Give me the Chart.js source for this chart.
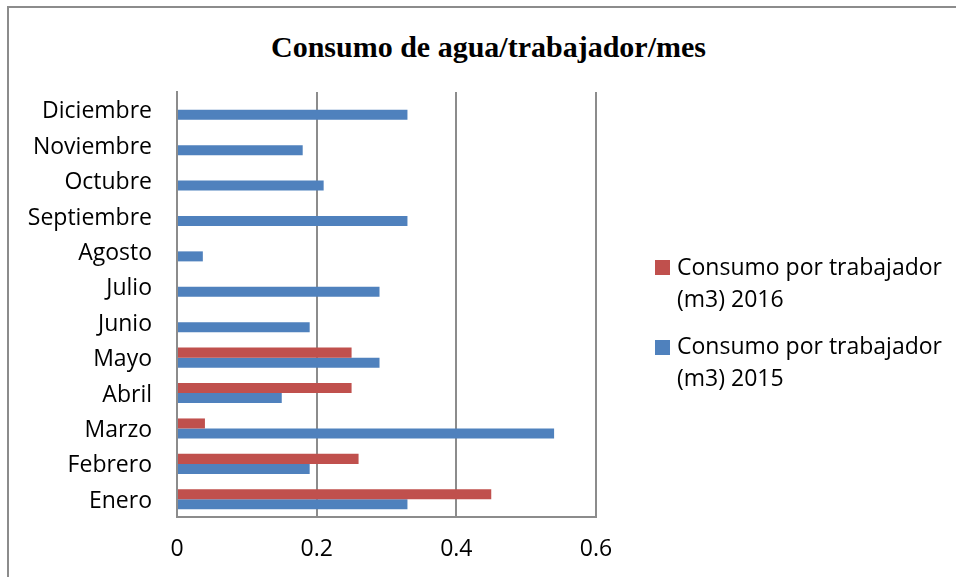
<!DOCTYPE html>
<html>
<head>
<meta charset="utf-8">
<script src="https://cdn.jsdelivr.net/npm/chart.js@4"></script>
<style>
    html, body { margin: 0; padding: 0; background: #fff; }
    #wrap { position: relative; width: 956px; height: 577px; overflow: hidden; }
    #marco { position: absolute; left: 7px; top: 6px; width: 1100px; height: 700px; border: 2px solid #8c8c8c; }
    #titulo { position: absolute; left: 0; top: 32px; width: 977px; text-align: center;
        font: bold 30px "Liberation Serif", serif; line-height: 30px; color: #000; }
    .leyenda { position: absolute; left: 677px; font: 23px "Open Sans", sans-serif; line-height: 32px; color: #000; white-space: nowrap; }
    .cuadro { position: absolute; left: 655px; width: 15px; height: 15px; }
    canvas { position: absolute; left: 0; top: 0; }
</style>
</head>
<body>
<div id="wrap">
    <div id="marco"></div>
    <div id="titulo">Consumo de agua/trabajador/mes</div>
    <canvas id="grafico" width="956" height="577"></canvas>
    <div id="leyenda"></div>
</div>
<script>
// Datos
const meses = ['Enero', 'Febrero', 'Marzo', 'Abril', 'Mayo', 'Junio', 'Julio',
    'Agosto', 'Septiembre', 'Octubre', 'Noviembre', 'Diciembre'];
const consumo2016 = [0.45, 0.26, 0.04, 0.25, 0.25, null, null, null, null, null, null, null];
const consumo2015 = [0.33, 0.19, 0.54, 0.15, 0.29, 0.19, 0.29, 0.037, 0.33, 0.21, 0.18, 0.33];
const etiquetasX = ['0', '0.2', '0.4', '0.6'];
const series = ['Consumo por trabajador (m3) 2016', 'Consumo por trabajador (m3) 2015'];

const rojo = '#C0504D';
const azul = '#4F81BD';
const gris = '#8c8c8c';

// leyenda en HTML (texto en dos lineas como en el original)
const leyenda = document.getElementById('leyenda');
[[series[0], rojo, 260, 250], [series[1], azul, 340, 329]].forEach(([texto, color, yCuadro, yTexto]) => {
    const c = document.createElement('div');
    c.className = 'cuadro';
    c.style.top = yCuadro + 'px';
    c.style.background = color;
    leyenda.appendChild(c);
    const t = document.createElement('div');
    t.className = 'leyenda';
    t.style.top = yTexto + 'px';
    const partes = texto.split(' (');
    t.innerHTML = partes[0] + '<br>(' + partes[1];
    leyenda.appendChild(t);
});

const ctx = document.getElementById('grafico').getContext('2d');
new Chart(ctx, {
    type: 'bar',
    data: {
        labels: meses,
        datasets: [
            { label: series[0], data: consumo2016, backgroundColor: rojo },
            { label: series[1], data: consumo2015, backgroundColor: azul }
        ]
    },
    options: {
        indexAxis: 'y',
        responsive: false,
        animation: false,
        barPercentage: 1,
        categoryPercentage: 0.565,
        layout: { padding: { top: 92, right: 360, left: 0, bottom: 0 } },
        plugins: {
            legend: { display: false },
            title: { display: false },
            tooltip: { enabled: false }
        },
        scales: {
            x: {
                min: 0,
                max: 0.6,
                ticks: {
                    stepSize: 0.2,
                    padding: 19,
                    color: '#000',
                    font: { family: 'Open Sans', size: 23 },
                    callback: (v, i) => etiquetasX[i]
                },
                grid: { color: gris, lineWidth: 2, drawTicks: false },
                border: { color: gris, width: 2 },
                afterFit: s => { s.height = 60; }
            },
            y: {
                reverse: true,
                ticks: {
                    padding: 25,
                    labelOffset: 2,
                    color: '#000',
                    font: { family: 'Open Sans', size: 23 }
                },
                grid: { display: false, drawTicks: false },
                border: { color: gris, width: 2 },
                afterFit: s => { s.width = 177; }
            }
        }
    }
});
</script>
</body>
</html>
